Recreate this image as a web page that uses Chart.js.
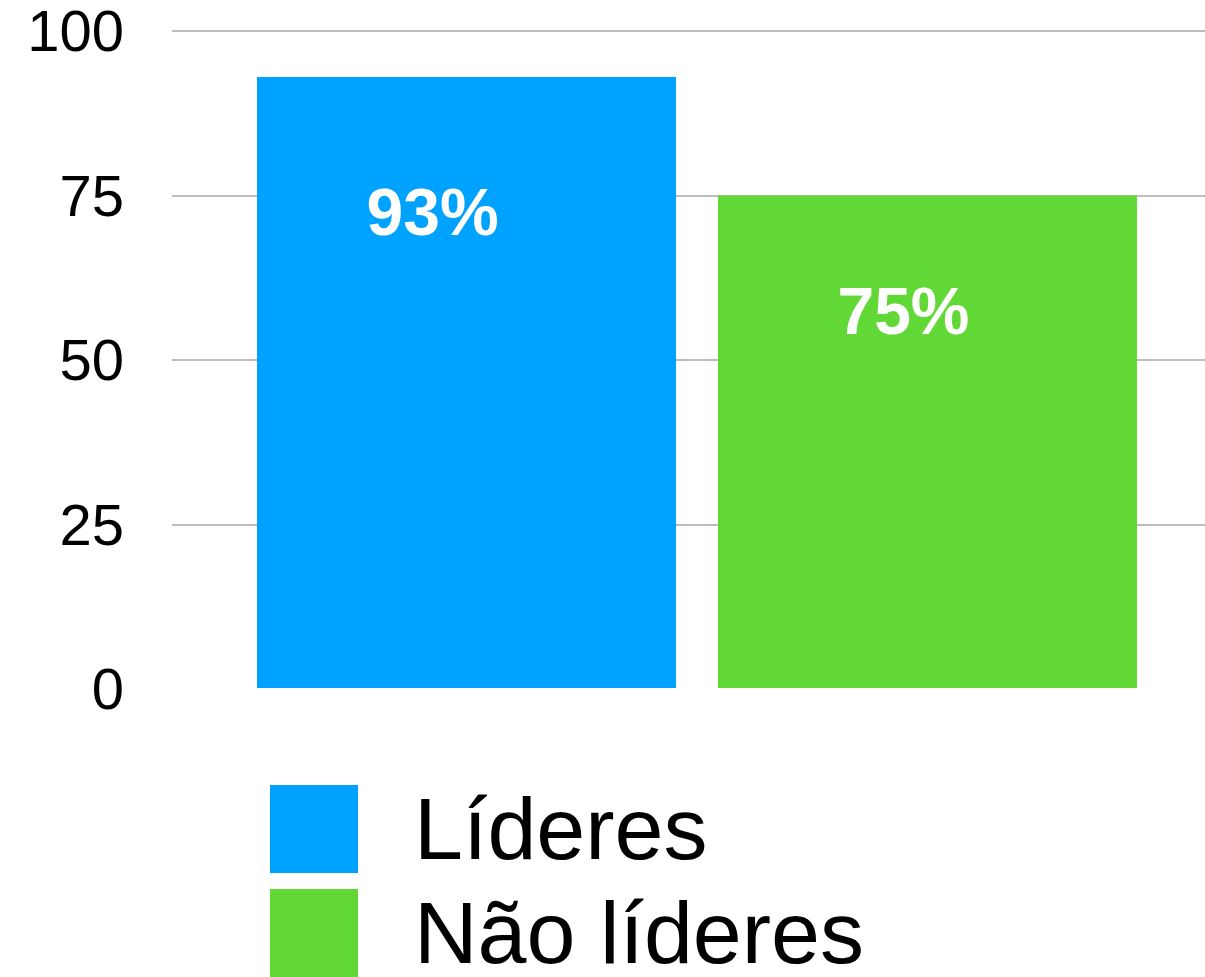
<!DOCTYPE html>
<html>
<head>
<meta charset="utf-8">
<script src="https://cdn.jsdelivr.net/npm/chart.js@4"></script>
<style>
    html, body { margin: 0; padding: 0; background: #fff; overflow: hidden; }
    #wrap { position: relative; width: 1205px; height: 977px; overflow: hidden; }
    #chart { position: absolute; left: 0; top: 0; }
    #legend { position: absolute; left: 270px; top: 785px; font-family: "Liberation Sans", Arial, Helvetica, sans-serif; }
    .item { display: flex; align-items: center; height: 88px; margin-bottom: 16px; }
    .swatch { width: 88px; height: 88px; flex: none; }
    .text { margin-left: 56px; font-size: 88px; line-height: 1; color: #000; white-space: nowrap; }
</style>
</head>
<body>
<div id="wrap">
    <canvas id="chart" width="1222" height="746"></canvas>
    <div id="legend"></div>
</div>
<script>
// Data
const categories = [''];
const seriesNames = ['Líderes', 'Não líderes'];
const lideresValues = [93];
const naoLideresValues = [75];
const seriesColors = ['#00A2FF', '#61D836'];
const yTicks = [0, 25, 50, 75, 100];

// Draws the "93%" style labels inside each bar
const barLabels = {
    id: 'barLabels',
    afterDatasetsDraw(chart, args, opts) {
        const ctx = chart.ctx;
        const yScale = chart.scales.y;
        ctx.save();
        ctx.fillStyle = '#fff';
        ctx.font = 'bold 66px "Liberation Sans", Arial, Helvetica, sans-serif';
        ctx.textAlign = 'center';
        ctx.textBaseline = 'middle';
        chart.data.datasets.forEach((ds, i) => {
            const meta = chart.getDatasetMeta(i);
            const place = opts.place[i];
            meta.data.forEach((bar, j) => {
                const value = ds.data[j];
                const y = yScale.getPixelForValue(value * place.frac);
                ctx.fillText(value + '%', bar.x + place.dx, y);
            });
        });
        ctx.restore();
    }
};

const ctx = document.getElementById('chart').getContext('2d');
const chart = new Chart(ctx, {
    type: 'bar',
    data: {
        labels: categories,
        datasets: [
            {
                label: seriesNames[0],
                data: lideresValues,
                backgroundColor: seriesColors[0],
                borderWidth: 0
            },
            {
                label: seriesNames[1],
                data: naoLideresValues,
                backgroundColor: seriesColors[1],
                borderWidth: 0
            }
        ]
    },
    options: {
        responsive: false,
        animation: false,
        layout: {
            padding: { left: 28, right: 0, top: 31, bottom: 57 }
        },
        datasets: {
            bar: {
                categoryPercentage: 0.878,
                barPercentage: 0.909
            }
        },
        plugins: {
            legend: { display: false },
            tooltip: { enabled: false },
            barLabels: {
                place: [{ dx: -34, frac: 0.7715 }, { dx: -24, frac: 0.7555 }]
            }
        },
        scales: {
            x: {
                display: false
            },
            y: {
                min: 0,
                max: 100,
                afterBuildTicks: axis => {
                    axis.ticks = yTicks.map(v => ({ value: v }));
                },
                afterFit: axis => {
                    // label column + gap, no extra room above/below
                    axis.width = 144;
                    axis.paddingTop = 0;
                    axis.paddingBottom = 0;
                },
                border: { display: false },
                grid: {
                    drawTicks: false,
                    lineWidth: 2,
                    color: c => (c.tick && c.tick.value === 0) ? 'rgba(0,0,0,0)' : '#bdbdbd'
                },
                ticks: {
                    padding: 48,
                    labelOffset: 4,
                    color: '#000',
                    font: { size: 58, family: '"Liberation Sans", Arial, Helvetica, sans-serif' }
                }
            }
        }
    },
    plugins: [barLabels]
});

// HTML legend built from the chart's own legend items
const legendEl = document.getElementById('legend');
chart.options.plugins.legend.labels.generateLabels(chart).forEach(item => {
    const row = document.createElement('div');
    row.className = 'item';
    const box = document.createElement('div');
    box.className = 'swatch';
    box.style.background = item.fillStyle;
    const text = document.createElement('div');
    text.className = 'text';
    text.textContent = item.text;
    row.appendChild(box);
    row.appendChild(text);
    legendEl.appendChild(row);
});
</script>
</body>
</html>
